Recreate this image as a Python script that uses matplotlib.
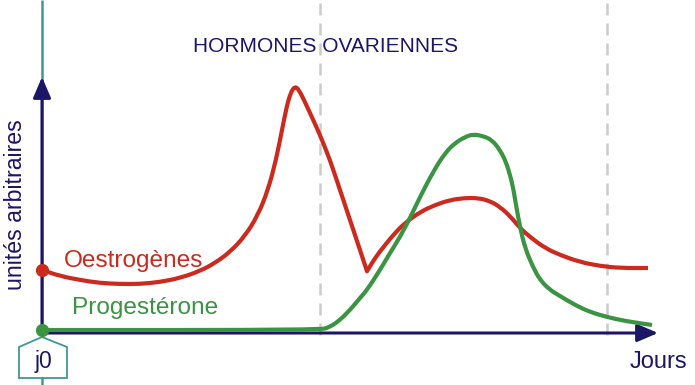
import matplotlib
matplotlib.use("Agg")
import matplotlib.pyplot as plt
from matplotlib.patches import Polygon, PathPatch
from matplotlib.path import Path

plt.rcParams['font.family'] = ['Liberation Sans', 'DejaVu Sans']

# ---- data (days, arbitrary units) ----
oestro_days = [0, 0.9, 1.9, 2.9, 3.9, 4.9, 5.9, 6.9, 7.9, 8.65, 9.4, 10.15, 10.8, 11.3,
               11.7, 12.0, 12.25, 12.45, 12.65, 12.85, 13.1, 13.4, 13.7, 14.0, 14.4, 14.9,
               15.4, 15.9, 16.25, 16.25, 16.65, 17.15, 17.65, 18.15, 18.9, 19.65, 20.4, 21.15,
               21.8, 22.4, 22.9, 23.4, 23.9, 24.4, 25.15, 25.9, 26.9, 27.9, 28.9, 30.3]
oestro_vals = [24, 21.6, 20, 18.8, 18.4, 18.4, 19.2, 20.8, 23.6, 26.8, 31.2, 37.6, 46, 56,
               68, 80, 90, 95.2, 97.5, 96, 92, 86.8, 81.6, 76, 68, 56,
               44, 32, 23.5, 23.5, 28.8, 34, 38.8, 42.8, 47.2, 50, 52, 52.8,
               52.8, 51.6, 49.2, 45.6, 40.8, 37.2, 32.8, 30, 27.2, 25.6, 24.8, 24.8]

proges_days = [0, 13.9, 14.4, 14.9, 15.4, 15.9, 16.25, 16.9, 17.4, 17.9, 18.4, 18.9, 19.55,
               20.15, 20.65, 21.15, 21.55, 22.05, 22.5, 22.9, 23.2, 23.4, 23.55, 23.7,
               23.9, 24.15, 24.55, 24.9, 25.4, 25.9, 26.65, 27.4, 28.25, 29.15, 30.5]
proges_vals = [0, 0, 1.2, 4, 8, 12.8, 16, 24, 30.8, 37.2, 44.8, 53.2, 63.2,
               70.8, 74.8, 77.2, 78.3, 77.6, 76, 72, 67.2, 62, 57.2, 50,
               41.2, 32.8, 25.2, 20, 16, 13.6, 10, 7.2, 5.2, 3.6, 2]

phase_limits = [13.9, 28.25]

title = "HORMONES OVARIENNES"
ylabel = "unités arbitraires"
xlabel = "Jours"
label_oestro = "Oestrogènes"
label_proges = "Progestérone"
day0_label = "j0"

# ---- colours ----
NAVY = '#1c1666'
RED = '#cc2a1e'
GREEN = '#3a9442'
TEAL = '#3f979a'
GRAY = '#cccccc'


def smooth_path(xs, ys):
    """Quadratic B-spline style path: given points act as control points."""
    pts = list(zip(xs, ys))
    verts = [pts[0]]
    codes = [Path.MOVETO]
    mid = ((pts[0][0] + pts[1][0]) / 2, (pts[0][1] + pts[1][1]) / 2)
    verts.append(mid)
    codes.append(Path.LINETO)
    for i in range(1, len(pts) - 1):
        nxt = ((pts[i][0] + pts[i + 1][0]) / 2, (pts[i][1] + pts[i + 1][1]) / 2)
        verts += [pts[i], nxt]
        codes += [Path.CURVE3, Path.CURVE3]
    verts.append(pts[-1])
    codes.append(Path.LINETO)
    return Path(verts, codes)


fig = plt.figure(figsize=(6.95, 3.85), dpi=100)
ax = fig.add_axes([0, 0, 1, 1])
ax.set_xlim(-2.1, 32.65)
ax.set_ylim(-22, 132)
ax.axis('off')

# teal day-0 line
ax.plot([0, 0], [-22, 132], color=TEAL, lw=1.8, zorder=1, solid_capstyle='butt')

# phase dashed lines
for x in phase_limits:
    ax.plot([x, x], [-2, 132], color=GRAY, lw=1.8, dashes=(4.8, 3.2), zorder=1)

# axes arrows
arrow_kw = dict(arrowstyle='-|>,head_length=0.7,head_width=0.3',
                color=NAVY, lw=2.2, mutation_scale=18, shrinkA=0, shrinkB=0)
ax.annotate('', xy=(0, 101.2), xytext=(0, -1.2), arrowprops=arrow_kw, zorder=2)
ax.annotate('', xy=(30.8, -1.2), xytext=(0, -1.2), arrowprops=arrow_kw, zorder=2)

# curves
for xs, ys, col in [(oestro_days, oestro_vals, RED), (proges_days, proges_vals, GREEN)]:
    ax.add_patch(PathPatch(smooth_path(xs, ys), facecolor='none', edgecolor=col,
                           lw=3.0, capstyle='butt', joinstyle='round', zorder=4))
ax.plot([oestro_days[0]], [oestro_vals[0]], 'o', color=RED, ms=8.5, zorder=5)
ax.plot([proges_days[0]], [proges_vals[0]], 'o', color=GREEN, ms=8.5, zorder=5)

# j0 box
box = Polygon([(-1.15, -6.8), (0, -2.8), (1.25, -6.8), (1.25, -19.2), (-1.15, -19.2)],
              closed=True, facecolor='white', edgecolor=TEAL, lw=1.3, zorder=3)
ax.add_patch(box)
ax.text(0.05, -12.6, day0_label, color=NAVY, fontsize=16.5, ha='center', va='center', zorder=6)

# texts
ax.text(14.2, 113.2, title, color=NAVY, fontsize=15, ha='center', va='center')
ax.text(1.1, 27.6, label_oestro, color=RED, fontsize=17.6, ha='left', va='center')
ax.text(1.5, 8.8, label_proges, color=GREEN, fontsize=17.6, ha='left', va='center')
ax.text(29.4, -12.8, xlabel, color=NAVY, fontsize=17, ha='left', va='center')
ax.text(-1.3, 50, ylabel, color=NAVY, fontsize=16.7, ha='center', va='center', rotation=90)

fig.savefig('out.png', dpi=100)
